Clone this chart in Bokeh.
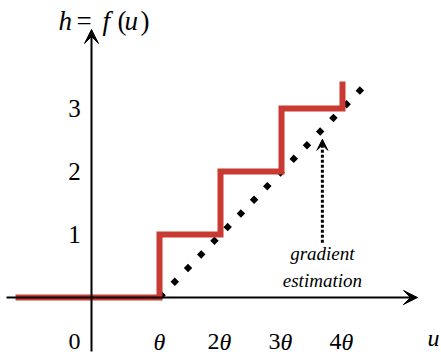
from bokeh.plotting import figure
from bokeh.models import Range1d, Arrow, VeeHead, Label
from bokeh.core.properties import value
from bokeh.embed import file_html
from bokeh.resources import INLINE

# ---- data (u in units of theta, h in steps) ----
jump_u = [1, 2, 3, 4]          # θ, 2θ, 3θ, 4θ
level_h = [0, 1, 2, 3]         # level before each jump
u_start = -1.36                # left end of the step curve
h_top = 3.43                   # top of the last (cut) riser
grad_u = [1, 4.44]             # gradient estimation line
grad_h = [0, 3.44]
note_u = 3.67                  # annotation arrow
note_h = [0.87, 2.51]
x_tick_coef = ["", "2", "3", "4"]
y_ticks = [1, 2, 3]
y_tick_labels = ["1", "2", "3"]

# ---- layout (pixel mapping) ----
W, H = 441, 360
U0, UPX = 98, 61
H0, HPX = 297, 63

def su(px):
    return (px - U0) / UPX

def sh(py):
    return (H0 - py) / HPX

p = figure(width=W, height=H, x_range=Range1d(su(0), su(W)), y_range=Range1d(sh(H), sh(0)),
           output_backend="svg", toolbar_location=None, min_border=0,
           x_axis_type=None, y_axis_type=None, outline_line_color=None,
           background_fill_color="white", border_fill_color="white")
p.grid.visible = False

SERIF = value("Liberation Serif")
RED = "#c93a32"

# step curve coordinates
xs, ys = [u_start], [level_h[0]]
for i, t in enumerate(jump_u):
    xs += [t, t]
    ys += [level_h[i], level_h[i] + 1 if i < len(jump_u) - 1 else h_top]

# gradient estimation (dotted diamonds)
p.line(grad_u, grad_h, line_color="black", line_width=6, line_dash="6 13")

# axes
p.add_layout(Arrow(x_start=su(6), y_start=0, x_end=su(417), y_end=0, line_width=2,
                   end=VeeHead(size=14, fill_color="black", line_color="black")))
p.add_layout(Arrow(x_start=su(91), y_start=sh(351), x_end=su(91), y_end=sh(29), line_width=2,
                   end=VeeHead(size=14, fill_color="black", line_color="black")))

# step curve
p.line(xs, ys, line_color=RED, line_width=6, line_join="miter")

# annotation arrow
p.add_layout(Arrow(x_start=note_u, y_start=note_h[0], x_end=note_u, y_end=note_h[1],
                   line_width=3, line_dash="3 2",
                   end=VeeHead(size=11, fill_color="black", line_color="black", line_width=1)))
p.text(x=[note_u, note_u], y=[sh(253), sh(280)], text=["gradient", "estimation"],
       text_font=SERIF, text_font_style="italic", text_font_size="19px",
       text_align="center", text_baseline="alphabetic", text_color="black")

# y tick labels
p.text(x=[su(74)] * len(y_ticks), y=y_ticks, text=y_tick_labels, text_font=SERIF,
       text_font_size="25px", text_align="center", text_baseline="middle", text_color="black")

# x tick labels
lab_y = sh(341)
FS = "24px"
p.text(x=jump_u[1:], y=[lab_y] * 3, text=x_tick_coef[1:], text_font=SERIF,
       text_font_size=FS, text_align="right", text_baseline="middle",
       x_offset=-1, text_color="black")
p.text(x=jump_u[1:], y=[lab_y] * 3, text=["θ"] * 3, text_font=SERIF, text_font_style="italic",
       text_font_size=FS, text_align="left", text_baseline="middle",
       x_offset=-1, text_color="black")
p.text(x=[jump_u[0]], y=[lab_y], text=["θ"], text_font=SERIF, text_font_style="italic",
       text_font_size=FS, text_align="center", text_baseline="middle", text_color="black")
p.text(x=[su(74)], y=[lab_y], text=["0"], text_font=SERIF,
       text_font_size=FS, text_align="center", text_baseline="middle", text_color="black")
p.add_layout(Label(x=su(427), y=sh(337), text="u", text_font="Liberation Serif",
                   text_font_style="italic", text_font_size=FS, text_baseline="middle",
                   text_color="black"))

# title h = f(u)
title_parts = [("h", 58, "italic"), ("=", 76, "normal"), ("f", 102, "italic"),
               ("(", 117, "normal"), ("u", 124, "italic"), (")", 140, "normal")]
for t, px, st in title_parts:
    p.add_layout(Label(x=su(px), y=sh(20), text=t, text_font="Liberation Serif",
                       text_font_style=st, text_font_size="27px", text_baseline="alphabetic",
                       text_color="black"))

open("out.html", "w").write(file_html(p, INLINE))
